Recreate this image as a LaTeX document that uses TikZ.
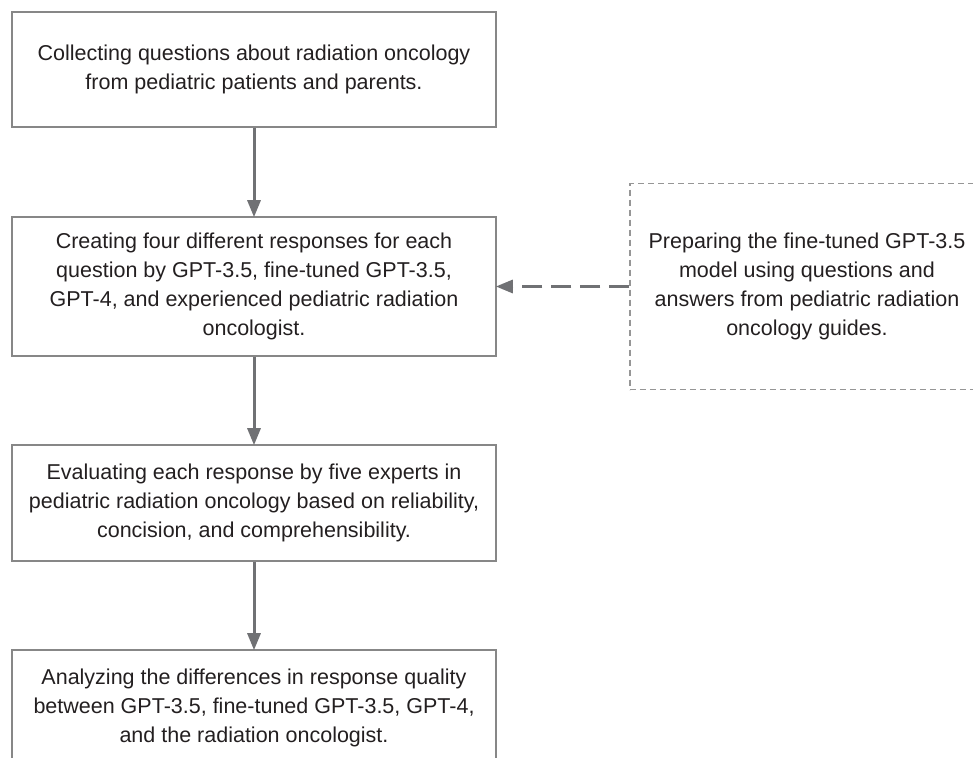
\documentclass[tikz,border=0pt]{standalone}
\usepackage{fontspec}
\setmainfont{Liberation Sans}
\usetikzlibrary{positioning, arrows.meta}
\definecolor{boxgray}{RGB}{135,135,135}
\definecolor{flowgray}{RGB}{112,113,116}
\definecolor{dashgray}{RGB}{150,150,150}
\definecolor{textblack}{RGB}{35,31,32}
\tikzset{
  % Flow chart
  stepbox/.style  = { draw=boxgray, line width=1.6pt, minimum width=484pt,
                       align=center, text=textblack,
                       font=\fontsize{21.5}{29}\selectfont },
  sidebox/.style  = { draw=dashgray, line width=1.3pt, dash pattern=on 6pt off 4pt,
                       minimum width=354pt, minimum height=206pt, align=center,
                       text=textblack, font=\fontsize{21.5}{29}\selectfont },
  flow/.style     = { draw=flowgray, line width=3pt,
                       -{Triangle[length=17pt,width=13pt]}, shorten >=-1pt },
  dashflow/.style = { flow, dash pattern=on 20pt off 9pt }
}

\begin{document}
\begin{tikzpicture}[node distance=87.4pt and 132.5pt]

  \useasboundingbox (0,0) rectangle (973pt,-757pt);

  \node[stepbox, minimum height=115pt] (collect) at (254pt,-69.5pt)
    {Collecting questions about radiation oncology\\from pediatric patients and parents.};
  \node[stepbox, minimum height=139pt, below=88.4pt of collect] (create)
    {Creating four different responses for each\\question by GPT-3.5, fine-tuned GPT-3.5,\\GPT-4, and experienced pediatric radiation\\oncologist.};
  \node[stepbox, minimum height=116pt, below=of create] (evaluate)
    {Evaluating each response by five experts in\\pediatric radiation oncology based on reliability,\\concision, and comprehensibility.};
  \node[stepbox, minimum height=116pt, below=of evaluate] (analyze)
    {Analyzing the differences in response quality\\between GPT-3.5, fine-tuned GPT-3.5, GPT-4,\\and the radiation oncologist.};

  \node[sidebox, right=of create] (prepare)
    {Preparing the fine-tuned GPT-3.5\\model using questions and\\answers from pediatric radiation\\oncology guides.};

  \draw[flow] (collect) -- (create);
  \draw[flow] (create) -- (evaluate);
  \draw[flow] (evaluate) -- (analyze);
  \draw[dashflow] (prepare) -- (create);

\end{tikzpicture}
\end{document}
